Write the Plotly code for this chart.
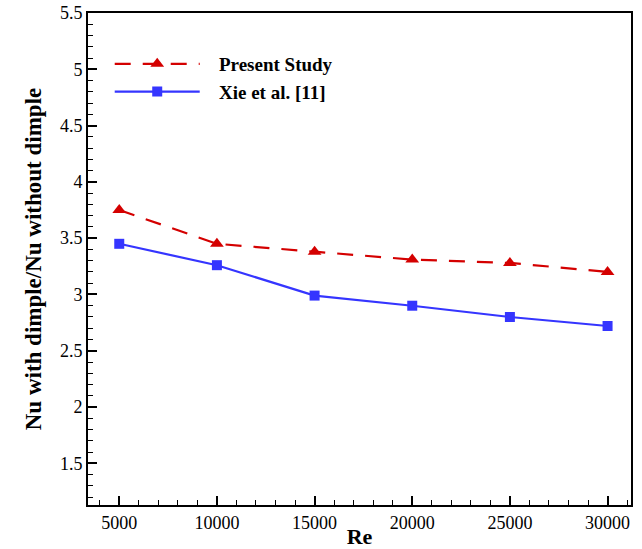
import plotly.graph_objects as go

re_values = [5000, 10000, 15000, 20000, 25000, 30000]
present_study = [3.75, 3.45, 3.38, 3.31, 3.28, 3.20]
xie_et_al = [3.45, 3.26, 2.99, 2.90, 2.80, 2.72]
x_tick_vals = [5000, 10000, 15000, 20000, 25000, 30000]
x_tick_text = ["5000", "10000", "15000", "20000", "25000", "30000"]
y_tick_vals = [1.5, 2, 2.5, 3, 3.5, 4, 4.5, 5, 5.5]
y_tick_text = ["1.5", "2", "2.5", "3", "3.5", "4", "4.5", "5", "5.5"]
series_names = ["Present Study", "Xie et al. [11]"]

pad = "\u00a0\u00a0\u00a0"

fig = go.Figure()
fig.add_trace(go.Scatter(
    x=re_values, y=present_study, name=pad + series_names[0], mode="lines+markers",
    line=dict(color="#d40000", width=2.2, dash="16px,12px"),
    marker=dict(symbol="triangle-up", size=12, color="#d40000"),
))
fig.add_trace(go.Scatter(
    x=re_values, y=xie_et_al, name=pad + series_names[1], mode="lines+markers",
    line=dict(color="#3535ff", width=2.2),
    marker=dict(symbol="square", size=10, color="#3535ff"),
))

font_family = "Liberation Serif"
fig.update_layout(
    width=642, height=549,
    margin=dict(l=88, r=11, t=13, b=44, autoexpand=False),
    plot_bgcolor="white", paper_bgcolor="white",
    font=dict(family=font_family, color="black", size=18),
    showlegend=True,
    legend=dict(x=0.04, y=0.935, xanchor="left", yanchor="top",
                bgcolor="rgba(0,0,0,0)", itemwidth=85,
                font=dict(family=font_family, size=19, color="black", weight="bold"),
                tracegroupgap=0),
    xaxis=dict(
        range=[3400, 31200], tickmode="array", tickvals=x_tick_vals, ticktext=x_tick_text,
        ticks="inside", ticklen=9, tickwidth=2, tickcolor="black",
        minor=dict(tickmode="linear", tick0=0, dtick=1000, ticks="inside", ticklen=5, tickwidth=1, tickcolor="black"),
        showline=True, linewidth=2, linecolor="black", mirror=True,
        showgrid=False, zeroline=False, automargin=False,
        tickfont=dict(size=18, family=font_family, color="black"),
        title=dict(text="Re", font=dict(size=22, family=font_family, weight="bold"), standoff=0),
    ),
    yaxis=dict(
        range=[1.13, 5.5], tickmode="array", tickvals=y_tick_vals, ticktext=y_tick_text,
        ticks="inside", ticklen=9, tickwidth=2, tickcolor="black",
        minor=dict(tickmode="linear", tick0=0, dtick=0.1, ticks="inside", ticklen=5, tickwidth=1, tickcolor="black"),
        showline=True, linewidth=2, linecolor="black", mirror=True,
        showgrid=False, zeroline=False, automargin=False,
        tickfont=dict(size=18, family=font_family, color="black"),
        title=dict(text="Nu with dimple/Nu without dimple",
                   font=dict(size=23, family=font_family, weight="bold"), standoff=12),
    ),
)

fig.write_html("out.html", config={"displayModeBar": False},
               post_script="document.body.style.margin='0';document.body.style.padding='0';")
